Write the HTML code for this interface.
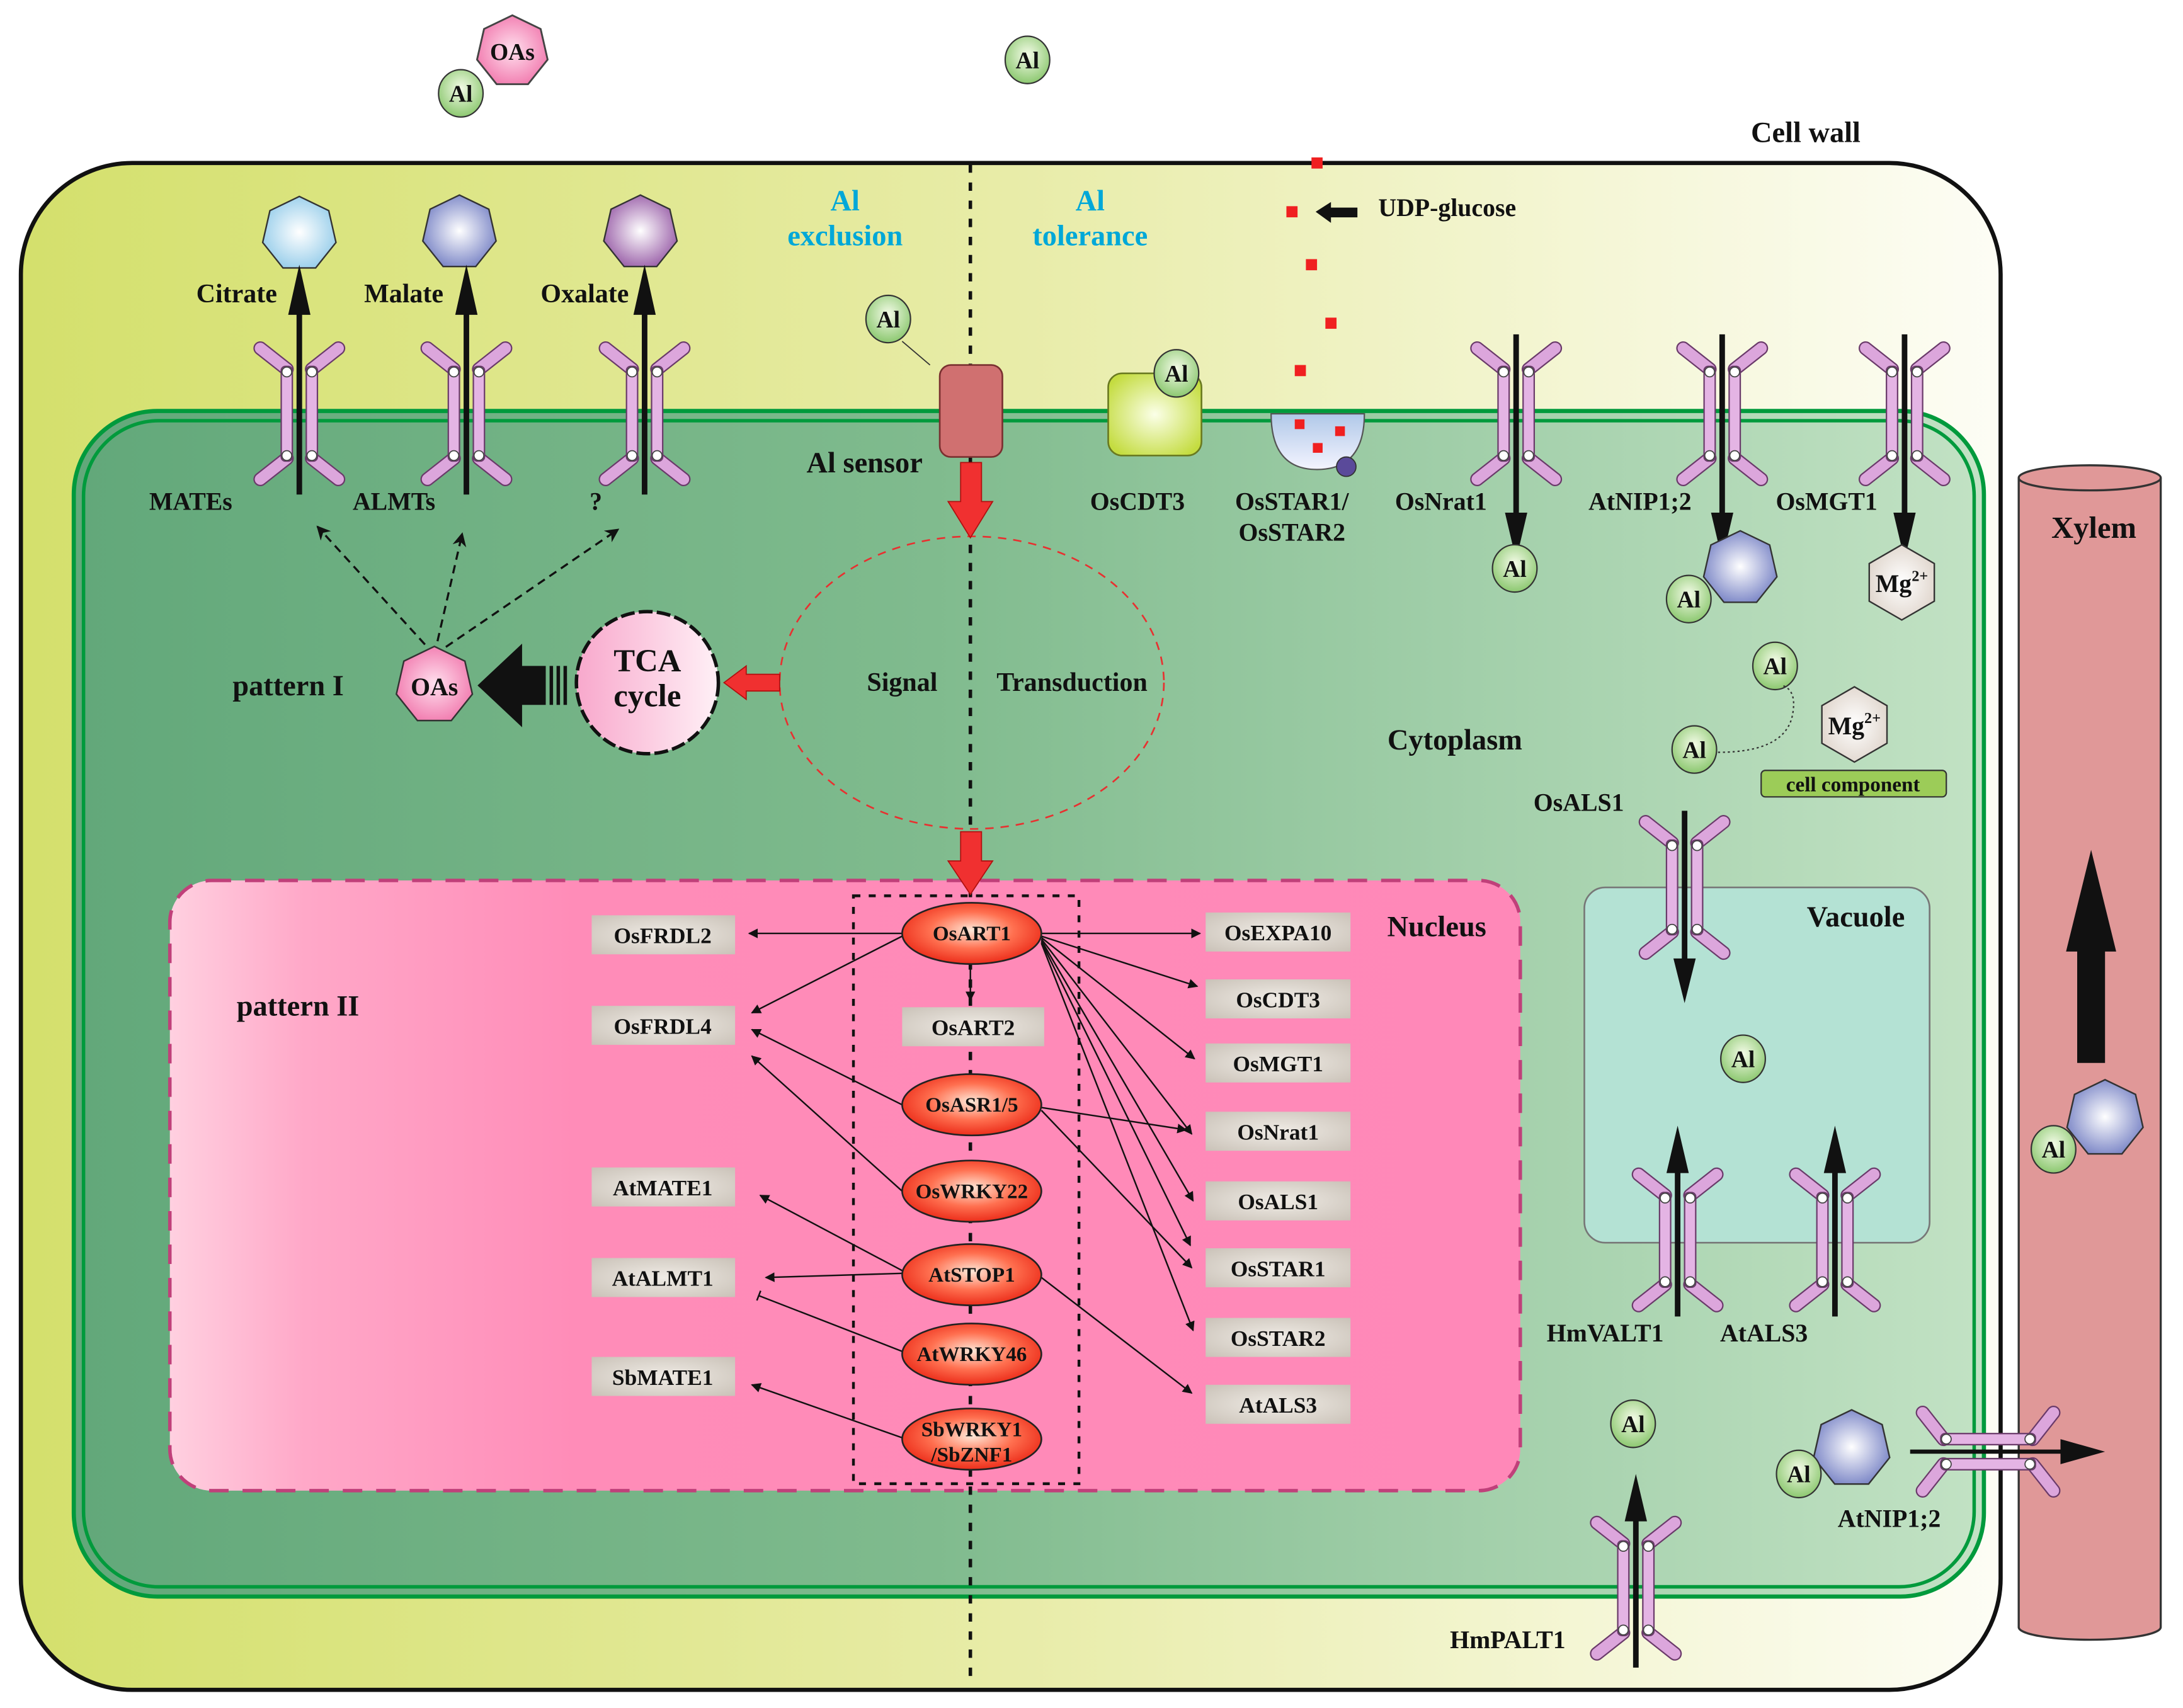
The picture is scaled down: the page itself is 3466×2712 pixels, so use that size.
<!DOCTYPE html>
<html><head><meta charset="utf-8"><style>html,body{margin:0;padding:0;background:#fff}svg{display:block}text{font-family:"Liberation Serif",serif;font-weight:bold;fill:#111}</style></head><body>
<svg width="3466" height="2712" viewBox="0 0 1568 1226" preserveAspectRatio="none" xmlns="http://www.w3.org/2000/svg">
<defs>
<linearGradient id="wall" x1="0" x2="1"><stop offset="0" stop-color="#d4e06c"/><stop offset="0.5" stop-color="#e8eca8"/><stop offset="1" stop-color="#fdfdf5"/></linearGradient>
<linearGradient id="cyto" x1="0" x2="1"><stop offset="0" stop-color="#62a87a"/><stop offset="0.45" stop-color="#80bb8e"/><stop offset="1" stop-color="#c2e2c4"/></linearGradient>
<linearGradient id="nuc" x1="0" x2="1"><stop offset="0" stop-color="#ffd0e0"/><stop offset="0.1" stop-color="#ffa8c8"/><stop offset="0.3" stop-color="#ff8cb8"/><stop offset="1" stop-color="#ff88b8"/></linearGradient>
<radialGradient id="alg" cx="0.5" cy="0.4" r="0.6"><stop offset="0" stop-color="#f4fbe8"/><stop offset="1" stop-color="#8cc870"/></radialGradient>
<radialGradient id="redg" cx="0.5" cy="0.45" r="0.6"><stop offset="0" stop-color="#ffe8d8"/><stop offset="0.5" stop-color="#ff7050"/><stop offset="1" stop-color="#e82010"/></radialGradient>
<radialGradient id="boxg" cx="0.5" cy="0.5" r="0.7"><stop offset="0" stop-color="#f0ece6"/><stop offset="1" stop-color="#cac2b8"/></radialGradient>
<radialGradient id="cit" r="0.6"><stop offset="0" stop-color="#fff"/><stop offset="1" stop-color="#8cc8e8"/></radialGradient>
<radialGradient id="mal" r="0.6"><stop offset="0" stop-color="#fff"/><stop offset="1" stop-color="#6c78c0"/></radialGradient>
<radialGradient id="oxa" r="0.6"><stop offset="0" stop-color="#fff"/><stop offset="1" stop-color="#9050a0"/></radialGradient>
<radialGradient id="pnk" r="0.6"><stop offset="0" stop-color="#ffe0ee"/><stop offset="1" stop-color="#f070a8"/></radialGradient>
<radialGradient id="mg" r="0.6"><stop offset="0" stop-color="#fff"/><stop offset="1" stop-color="#ddd2c8"/></radialGradient>
<radialGradient id="cdt" r="0.6"><stop offset="0" stop-color="#fbffe8"/><stop offset="1" stop-color="#c4dc40"/></radialGradient>
<linearGradient id="tca" x1="0" x2="1"><stop offset="0" stop-color="#f8a8cc"/><stop offset="1" stop-color="#fff0f6"/></linearGradient>
<linearGradient id="bowl" x1="0" y1="0" x2="0" y2="1"><stop offset="0" stop-color="#b0c8e8"/><stop offset="1" stop-color="#f4f4ff"/></linearGradient>
<marker id="ah" viewBox="0 0 10 10" refX="9" refY="5" markerWidth="7" markerHeight="7" orient="auto" markerUnits="userSpaceOnUse"><path d="M0,0 L10,5 L0,10 z" fill="#111"/></marker>
<marker id="ahs" viewBox="0 0 10 10" refX="9" refY="5" markerWidth="10" markerHeight="10" orient="auto" markerUnits="userSpaceOnUse"><path d="M0,0 L10,5 L0,10 L3,5 z" fill="#111"/></marker>
<marker id="tbar" viewBox="0 0 4 10" refX="2" refY="5" markerWidth="3" markerHeight="10" orient="auto" markerUnits="userSpaceOnUse"><path d="M2,0 L2,10" stroke="#111" stroke-width="1.5"/></marker>
<polygon id="hep" points="0,-1 0.782,-0.623 0.975,0.223 0.434,0.901 -0.434,0.901 -0.975,0.223 -0.782,-0.623"/>
<polygon id="hex" points="0,-1 0.866,-0.5 0.866,0.5 0,1 -0.866,0.5 -0.866,-0.5"/>
<g id="tr">
<g stroke-linecap="round">
<line x1="-9" y1="-32" x2="-28" y2="-47" stroke="#6a3a6a" stroke-width="10"/><line x1="-9" y1="-32" x2="-28" y2="-47" stroke="#dca6dc" stroke-width="8"/>
<line x1="9" y1="-32" x2="28" y2="-47" stroke="#6a3a6a" stroke-width="10"/><line x1="9" y1="-32" x2="28" y2="-47" stroke="#dca6dc" stroke-width="8"/>
<line x1="-9" y1="32" x2="-28" y2="47" stroke="#6a3a6a" stroke-width="10"/><line x1="-9" y1="32" x2="-28" y2="47" stroke="#dca6dc" stroke-width="8"/>
<line x1="9" y1="32" x2="28" y2="47" stroke="#6a3a6a" stroke-width="10"/><line x1="9" y1="32" x2="28" y2="47" stroke="#dca6dc" stroke-width="8"/>
</g>
<rect x="-13" y="-34" width="8" height="68" rx="3" fill="#e4b4e4" stroke="#6a3a6a" stroke-width="1"/>
<rect x="5" y="-34" width="8" height="68" rx="3" fill="#e4b4e4" stroke="#6a3a6a" stroke-width="1"/>
<circle cx="-9" cy="-30" r="3.5" fill="#fff" stroke="#444" stroke-width="0.8"/><circle cx="9" cy="-30" r="3.5" fill="#fff" stroke="#444" stroke-width="0.8"/>
<circle cx="-9" cy="30" r="3.5" fill="#fff" stroke="#444" stroke-width="0.8"/><circle cx="9" cy="30" r="3.5" fill="#fff" stroke="#444" stroke-width="0.8"/>
</g>
<g id="al"><ellipse rx="16" ry="17" fill="url(#alg)" stroke="#333" stroke-width="1"/><text y="6" text-anchor="middle" font-size="17">Al</text></g>
</defs>

<rect width="1568" height="1226" fill="#fff"/>
<rect x="15" y="117" width="1422" height="1096" rx="80" fill="url(#wall)" stroke="#111" stroke-width="3"/>
<rect x="53" y="295" width="1372" height="851" rx="60" fill="url(#cyto)" stroke="#009a3c" stroke-width="3"/>
<rect x="60" y="302" width="1358" height="837" rx="54" fill="none" stroke="#009a3c" stroke-width="2.5"/>
<path d="M1450,343 L1450,1168 A51,9 0 0 0 1552,1168 L1552,343" fill="#e09898" stroke="#333" stroke-width="1.5"/>
<ellipse cx="1501" cy="343" rx="51" ry="9" fill="#e09898" stroke="#333" stroke-width="1.5"/>
<text x="1504" y="386" text-anchor="middle" font-size="22">Xylem</text>
<path d="M1492,763 L1492,683 L1484,683 L1502,610 L1520,683 L1512,683 L1512,763 z" fill="#111"/>

<rect x="122" y="632" width="970" height="438" rx="30" fill="url(#nuc)" stroke="#c0407a" stroke-width="2.5" stroke-dasharray="14,10"/>
<rect x="613" y="643" width="162" height="422" fill="none" stroke="#111" stroke-width="2" stroke-dasharray="5,6"/>
<rect x="1138" y="637" width="248" height="255" rx="15" fill="#b4e2d4" stroke="#777" stroke-width="1.2"/>

<line x1="697" y1="118" x2="697" y2="1210" stroke="#111" stroke-width="2.5" stroke-dasharray="6,7"/>

<ellipse cx="698" cy="490" rx="138" ry="105" fill="none" stroke="#e83030" stroke-width="1.2" stroke-dasharray="6,5"/>
<text x="648" y="496" text-anchor="middle" font-size="19">Signal</text>
<text x="770" y="496" text-anchor="middle" font-size="19">Transduction</text>

<use href="#hep" transform="translate(368,37) scale(26)" fill="url(#pnk)" stroke="#444" stroke-width="0.05"/>
<text x="368" y="43" text-anchor="middle" font-size="17">OAs</text>
<use href="#al" x="331" y="67"/>
<use href="#al" x="738" y="43"/>
<text x="1297" y="102" text-anchor="middle" font-size="21">Cell wall</text>
<text x="607" y="151" text-anchor="middle" font-size="21" style="fill:#00a8d8">Al</text>
<text x="607" y="176" text-anchor="middle" font-size="21" style="fill:#00a8d8">exclusion</text>
<text x="783" y="151" text-anchor="middle" font-size="21" style="fill:#00a8d8">Al</text>
<text x="783" y="176" text-anchor="middle" font-size="21" style="fill:#00a8d8">tolerance</text>

<use href="#hep" transform="translate(215,168) scale(27)" fill="url(#cit)" stroke="#333" stroke-width="0.04"/>
<use href="#hep" transform="translate(330,167) scale(27)" fill="url(#mal)" stroke="#333" stroke-width="0.04"/>
<use href="#hep" transform="translate(460,167) scale(27)" fill="url(#oxa)" stroke="#333" stroke-width="0.04"/>
<text x="170" y="217" text-anchor="middle" font-size="19">Citrate</text>
<text x="290" y="217" text-anchor="middle" font-size="19">Malate</text>
<text x="420" y="217" text-anchor="middle" font-size="19">Oxalate</text>

<use href="#tr" x="215" y="297"/><use href="#tr" x="335" y="297"/><use href="#tr" x="463" y="297"/>
<g stroke="#111" stroke-width="4"><line x1="215" y1="355" x2="215" y2="225"/><line x1="335" y1="355" x2="335" y2="225"/><line x1="463" y1="355" x2="463" y2="225"/></g>
<g fill="#111"><path d="M207,226 L215,190 L223,226z"/><path d="M327,226 L335,190 L343,226z"/><path d="M455,226 L463,190 L471,226z"/></g>
<text x="137" y="366" text-anchor="middle" font-size="18">MATEs</text>
<text x="283" y="366" text-anchor="middle" font-size="18">ALMTs</text>
<text x="428" y="366" text-anchor="middle" font-size="18">?</text>

<g stroke="#111" stroke-width="1.5" stroke-dasharray="6,4" fill="none" marker-end="url(#ahs)">
<line x1="312" y1="470" x2="228" y2="378"/><line x1="312" y1="470" x2="332" y2="383"/><line x1="312" y1="470" x2="444" y2="380"/></g>
<use href="#hep" transform="translate(312,492) scale(28)" fill="url(#pnk)" stroke="#333" stroke-width="0.04"/>
<text x="312" y="499" text-anchor="middle" font-size="18">OAs</text>
<text x="207" y="499" text-anchor="middle" font-size="21">pattern I</text>
<path d="M343,492 L375,462 L375,478 L392,478 L392,506 L375,506 L375,522 z" fill="#111"/>
<g stroke="#111" stroke-width="2.5"><line x1="396" y1="478" x2="396" y2="506"/><line x1="401" y1="478" x2="401" y2="506"/><line x1="406" y1="478" x2="406" y2="506"/></g>
<circle cx="465" cy="490" r="51" fill="url(#tca)" stroke="#111" stroke-width="2.5" stroke-dasharray="10,3"/>
<text x="465" y="482" text-anchor="middle" font-size="23">TCA</text>
<text x="465" y="507" text-anchor="middle" font-size="23">cycle</text>
<path d="M520,490 L536,478 L536,484 L560,484 L560,496 L536,496 L536,502 z" fill="#f03030" stroke="#b01010" stroke-width="0.8"/>

<use href="#al" x="638" y="229"/>
<line x1="648" y1="245" x2="668" y2="262" stroke="#333" stroke-width="0.8"/>
<rect x="675" y="262" width="45" height="66" rx="8" fill="#d07070" stroke="#7a3030" stroke-width="1.2"/>
<text x="621" y="339" text-anchor="middle" font-size="21">Al sensor</text>
<path d="M690,332 L705,332 L705,360 L713,360 L697,386 L681,360 L690,360 z" fill="#f03030" stroke="#b01010" stroke-width="0.8"/>
<path d="M690,597 L705,597 L705,618 L713,618 L697,642 L681,618 L690,618 z" fill="#f03030" stroke="#b01010" stroke-width="0.8"/>

<rect x="796" y="268" width="67" height="59" rx="10" fill="url(#cdt)" stroke="#6a7a20" stroke-width="1.2"/>
<use href="#al" x="845" y="268"/>
<text x="817" y="366" text-anchor="middle" font-size="18">OsCDT3</text>

<path d="M913,297 L980,297 Q980,337 946,337 Q913,337 913,297 z" fill="url(#bowl)" stroke="#555" stroke-width="1"/>
<circle cx="967" cy="335" r="7" fill="#5a4a9a" stroke="#333" stroke-width="0.8"/>
<g fill="#f02020"><rect x="942" y="113" width="8" height="8"/><rect x="924" y="148" width="8" height="8"/><rect x="938" y="186" width="8" height="8"/><rect x="952" y="228" width="8" height="8"/><rect x="930" y="262" width="8" height="8"/><rect x="930" y="301" width="7" height="7"/><rect x="959" y="306" width="7" height="7"/><rect x="943" y="318" width="7" height="7"/></g>
<path d="M945,152 L956,145 L956,149 L975,149 L975,156 L956,156 L956,160 z" fill="#111"/>
<text x="990" y="155" font-size="18">UDP-glucose</text>
<text x="928" y="366" text-anchor="middle" font-size="18">OsSTAR1/</text>
<text x="928" y="388" text-anchor="middle" font-size="18">OsSTAR2</text>

<use href="#tr" x="1089" y="297"/><use href="#tr" x="1237" y="297"/><use href="#tr" x="1368" y="297"/>
<g stroke="#111" stroke-width="4"><line x1="1089" y1="240" x2="1089" y2="370"/><line x1="1237" y1="240" x2="1237" y2="370"/><line x1="1368" y1="240" x2="1368" y2="370"/></g>
<g fill="#111"><path d="M1081,368 L1089,402 L1097,368z"/><path d="M1229,368 L1237,402 L1245,368z"/><path d="M1360,368 L1368,402 L1376,368z"/></g>
<text x="1035" y="366" text-anchor="middle" font-size="18">OsNrat1</text>
<text x="1178" y="366" text-anchor="middle" font-size="18">AtNIP1;2</text>
<text x="1312" y="366" text-anchor="middle" font-size="18">OsMGT1</text>
<use href="#al" x="1088" y="408"/>
<use href="#hep" transform="translate(1250,408) scale(27)" fill="url(#mal)" stroke="#333" stroke-width="0.04"/>
<use href="#al" x="1213" y="430"/>
<use href="#hex" transform="translate(1366,418) scale(27)" fill="url(#mg)" stroke="#333" stroke-width="0.04"/>
<text x="1366" y="425" text-anchor="middle" font-size="18">Mg<tspan font-size="11" dy="-8">2+</tspan></text>
<use href="#al" x="1275" y="478"/>
<use href="#al" x="1217" y="538"/>
<path d="M1234,540 Q1285,540 1288,510 Q1290,495 1280,492" fill="none" stroke="#333" stroke-width="1" stroke-dasharray="1.5,2"/>
<use href="#hex" transform="translate(1332,520) scale(27)" fill="url(#mg)" stroke="#333" stroke-width="0.04"/>
<text x="1332" y="527" text-anchor="middle" font-size="18">Mg<tspan font-size="11" dy="-8">2+</tspan></text>
<rect x="1265" y="553" width="133" height="19" rx="3" fill="#9ccc58" stroke="#333" stroke-width="1"/>
<text x="1331" y="568" text-anchor="middle" font-size="15">cell component</text>
<text x="1045" y="538" text-anchor="middle" font-size="21">Cytoplasm</text>

<text x="1134" y="582" text-anchor="middle" font-size="18">OsALS1</text>
<use href="#tr" x="1210" y="637"/>
<line x1="1210" y1="582" x2="1210" y2="690" stroke="#111" stroke-width="4"/>
<path d="M1202,688 L1210,720 L1218,688z" fill="#111"/>
<text x="1333" y="665" text-anchor="middle" font-size="21">Vacuole</text>
<use href="#al" x="1252" y="760"/>
<use href="#tr" x="1205" y="890"/><use href="#tr" x="1318" y="890"/>
<g stroke="#111" stroke-width="4"><line x1="1205" y1="945" x2="1205" y2="840"/><line x1="1318" y1="945" x2="1318" y2="840"/></g>
<g fill="#111"><path d="M1197,842 L1205,808 L1213,842z"/><path d="M1310,842 L1318,808 L1326,842z"/></g>
<text x="1153" y="963" text-anchor="middle" font-size="18">HmVALT1</text>
<text x="1267" y="963" text-anchor="middle" font-size="18">AtALS3</text>

<use href="#al" x="1173" y="1022"/>
<use href="#tr" x="1175" y="1140"/>
<line x1="1175" y1="1197" x2="1175" y2="1090" stroke="#111" stroke-width="4"/>
<path d="M1167,1092 L1175,1058 L1183,1092z" fill="#111"/>
<text x="1083" y="1183" text-anchor="middle" font-size="18">HmPALT1</text>
<use href="#hep" transform="translate(1330,1040) scale(28)" fill="url(#mal)" stroke="#333" stroke-width="0.04"/>
<use href="#al" x="1292" y="1058"/>
<use href="#tr" transform="translate(1428,1042) rotate(90)"/>
<line x1="1372" y1="1042" x2="1485" y2="1042" stroke="#111" stroke-width="3"/>
<path d="M1480,1033 L1512,1042 L1480,1051z" fill="#111"/>
<text x="1357" y="1096" text-anchor="middle" font-size="18">AtNIP1;2</text>
<use href="#hep" transform="translate(1512,803) scale(28)" fill="url(#mal)" stroke="#333" stroke-width="0.04"/>
<use href="#al" x="1475" y="825"/>

<text x="1032" y="672" text-anchor="middle" font-size="21">Nucleus</text>
<text x="214" y="729" text-anchor="middle" font-size="21">pattern II</text>
<g fill="url(#boxg)">
<rect x="425" y="657" width="103" height="28"/><rect x="425" y="722" width="103" height="28"/><rect x="425" y="838" width="103" height="28"/><rect x="425" y="903" width="103" height="28"/><rect x="425" y="974" width="103" height="28"/>
<rect x="648" y="723" width="102" height="28"/>
<rect x="866" y="655" width="104" height="28"/><rect x="866" y="703" width="104" height="28"/><rect x="866" y="749" width="104" height="28"/><rect x="866" y="798" width="104" height="28"/><rect x="866" y="848" width="104" height="28"/><rect x="866" y="896" width="104" height="28"/><rect x="866" y="946" width="104" height="28"/><rect x="866" y="994" width="104" height="28"/>
</g>
<g font-size="16" text-anchor="middle">
<text x="476" y="677">OsFRDL2</text><text x="476" y="742">OsFRDL4</text><text x="476" y="858">AtMATE1</text><text x="476" y="923">AtALMT1</text><text x="476" y="994">SbMATE1</text>
<text x="699" y="743">OsART2</text>
<text x="918" y="675">OsEXPA10</text><text x="918" y="723">OsCDT3</text><text x="918" y="769">OsMGT1</text><text x="918" y="818">OsNrat1</text><text x="918" y="868">OsALS1</text><text x="918" y="916">OsSTAR1</text><text x="918" y="966">OsSTAR2</text><text x="918" y="1014">AtALS3</text>
</g>
<g stroke="#111" stroke-width="1.1" fill="none" marker-end="url(#ah)">
<line x1="648" y1="670" x2="538" y2="670"/>
<line x1="648" y1="672" x2="540" y2="727"/>
<line x1="697" y1="692" x2="697" y2="718"/>
<line x1="748" y1="670" x2="862" y2="670"/>
<line x1="748" y1="672" x2="860" y2="708"/>
<line x1="748" y1="673" x2="858" y2="760"/>
<line x1="748" y1="674" x2="856" y2="814"/>
<line x1="748" y1="675" x2="857" y2="862"/>
<line x1="748" y1="676" x2="855" y2="894"/>
<line x1="748" y1="677" x2="857" y2="955"/>
<line x1="748" y1="795" x2="852" y2="811"/>
<line x1="748" y1="797" x2="856" y2="910"/>
<line x1="648" y1="793" x2="540" y2="739"/>
<line x1="648" y1="855" x2="540" y2="758"/>
<line x1="648" y1="912" x2="546" y2="858"/>
<line x1="648" y1="914" x2="550" y2="917"/>
<line x1="748" y1="917" x2="856" y2="1000"/>
<line x1="648" y1="1032" x2="540" y2="994"/>
</g>
<line x1="648" y1="970" x2="545" y2="930" stroke="#111" stroke-width="1.1" marker-end="url(#tbar)"/>
<g stroke="#222" stroke-width="1.2">
<ellipse cx="698" cy="670" rx="50" ry="22" fill="url(#redg)"/>
<ellipse cx="698" cy="793" rx="50" ry="22" fill="url(#redg)"/>
<ellipse cx="698" cy="855" rx="50" ry="22" fill="url(#redg)"/>
<ellipse cx="698" cy="915" rx="50" ry="22" fill="url(#redg)"/>
<ellipse cx="698" cy="972" rx="50" ry="22" fill="url(#redg)"/>
<ellipse cx="698" cy="1033" rx="50" ry="22" fill="url(#redg)"/>
</g>
<g font-size="15" text-anchor="middle">
<text x="698" y="675">OsART1</text><text x="698" y="798">OsASR1/5</text><text x="698" y="860">OsWRKY22</text><text x="698" y="920">AtSTOP1</text><text x="698" y="977">AtWRKY46</text>
<text x="698" y="1031">SbWRKY1</text><text x="698" y="1049">/SbZNF1</text>
</g>
</svg>
</body></html>
